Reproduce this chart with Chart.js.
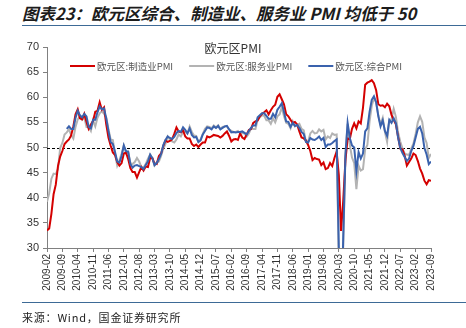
<!DOCTYPE html>
<html>
<head>
<meta charset="utf-8">
<script src="https://cdn.jsdelivr.net/npm/chart.js@4.4.0/dist/chart.umd.min.js"></script>
<style>
body{margin:0;width:466px;height:328px;background:#fff;overflow:hidden;position:relative;font-family:"Noto Sans CJK SC",sans-serif}
#head{position:absolute;left:22px;top:5px;line-height:16px;font-size:16.5px;font-weight:bold;font-style:italic;color:#1c1c1c;white-space:nowrap}
.rule{position:absolute;left:22px;right:0;height:0;border-top:1.5px solid #3d6a96}
#src{position:absolute;left:22px;top:312px;line-height:11px;font-size:11px;letter-spacing:0.8px;color:#222;white-space:nowrap}
#wrap{position:absolute;left:0;top:0}
</style>
</head>
<body>
<div id="head">图表23：欧元区综合、制造业、服务业 PMI 均低于 50</div>
<div class="rule" style="top:25px"></div>
<div id="wrap"><canvas id="pmi" width="466" height="328"></canvas></div>
<div class="rule" style="top:302px"></div>
<div id="src">来源：Wind，国金证券研究所</div>
<script>
// months 2009-02 .. 2023-09
var months = [];
for (var y = 2009; y <= 2023; y++) {
    for (var m = 1; m <= 12; m++) {
        if (y == 2009 && m < 2) continue;
        if (y == 2023 && m > 9) break;
        months.push(y + "-" + (m < 10 ? "0" + m : m));
    }
}

var manuf = [
    33.5, 33.9, 36.8, 40.7, 42.6, 46.3, 48.2, 49.3, 50.7, 51.2, 51.6,
    52.4, 54.2, 56.6, 57.6, 55.8, 55.6, 56.7, 55.1, 53.7, 54.6, 55.3, 57.1,
    57.3, 59.0, 57.5, 58.0, 54.6, 52.0, 50.4, 49.0, 48.5, 47.1, 46.4, 46.9,
    48.8, 49.0, 47.7, 45.9, 45.1, 45.1, 44.0, 45.1, 46.1, 45.4, 46.2, 46.1,
    47.9, 47.9, 46.8, 46.7, 48.3, 48.8, 50.3, 51.4, 51.1, 51.3, 51.6, 52.7,
    54.0, 53.2, 53.0, 53.4, 52.2, 51.8, 51.8, 50.7, 50.3, 50.6, 50.1, 50.6,
    51.0, 51.0, 52.2, 52.0, 52.2, 52.5, 52.4, 52.3, 52.0, 52.3, 52.8, 53.2,
    52.3, 51.2, 51.6, 51.7, 51.5, 52.8, 52.0, 51.7, 52.6, 53.5, 53.7, 54.9,
    55.2, 55.4, 56.2, 56.7, 57.0, 57.4, 56.6, 57.4, 58.1, 58.5, 60.1, 60.6,
    59.6, 58.6, 56.6, 56.2, 55.5, 54.9, 55.1, 54.6, 53.2, 52.0, 51.8, 51.4,
    50.5, 49.3, 47.5, 47.9, 47.7, 47.6, 46.5, 47.0, 45.7, 45.9, 46.9, 46.3,
    47.9, 49.2, 44.5, 33.4, 39.4, 47.4, 51.8, 51.7, 53.7, 54.8, 53.8, 55.2,
    54.8, 57.9, 62.5, 62.9, 63.1, 63.4, 62.8, 61.4, 58.6, 58.3, 58.4, 58.0,
    58.7, 58.2, 56.5, 55.5, 54.6, 52.1, 49.8, 49.6, 48.4, 46.4, 47.1, 47.8,
    48.8, 48.5, 47.3, 45.8, 44.8, 43.4, 42.7, 43.5, 43.4
];

var services = [
    39.2, 40.9, 43.8, 44.8, 44.7, 45.7, 49.9, 50.9, 52.6, 53.0, 53.6,
    52.5, 51.8, 54.1, 55.6, 56.2, 55.5, 56.0, 54.1, 54.1, 53.3, 55.4, 54.2,
    55.9, 56.8, 57.2, 56.7, 56.0, 53.7, 51.6, 51.5, 48.8, 46.4, 47.5, 48.8,
    50.4, 48.8, 49.2, 46.9, 46.7, 47.1, 47.9, 47.2, 46.1, 46.0, 46.7, 47.8,
    48.6, 47.9, 46.4, 47.0, 47.2, 48.3, 49.8, 50.7, 52.2, 51.6, 51.2, 51.0,
    51.6, 52.6, 52.2, 53.1, 53.2, 52.8, 54.2, 53.1, 52.4, 52.3, 51.1, 51.6,
    52.7, 53.7, 54.2, 54.1, 53.8, 54.4, 54.0, 54.4, 53.7, 54.1, 54.2, 54.2,
    53.6, 53.3, 53.1, 53.1, 53.3, 52.8, 52.9, 52.8, 52.2, 52.8, 53.8, 53.7,
    53.7, 55.5, 56.0, 56.4, 56.3, 55.4, 55.4, 54.7, 55.8, 55.0, 56.2, 56.6,
    58.0, 56.2, 54.9, 54.7, 53.8, 55.2, 54.2, 54.4, 54.7, 53.7, 53.4, 51.2,
    51.2, 52.8, 53.3, 52.8, 52.9, 53.6, 53.2, 53.5, 51.6, 52.2, 51.9, 52.8,
    52.5, 52.6, 26.4, 12.0, 30.5, 48.3, 54.7, 50.5, 48.0, 46.9, 41.7, 46.4,
    45.4, 45.7, 49.6, 50.5, 55.2, 58.3, 59.8, 59.0, 56.4, 54.6, 55.9, 53.1,
    51.1, 55.5, 55.6, 57.7, 56.1, 53.0, 51.2, 49.8, 48.8, 48.6, 48.5, 49.8,
    50.8, 52.7, 55.0, 56.2, 55.1, 52.0, 50.9, 47.9, 48.7
];

var composite = [
    null, null, null, null, null, null, null, null, null, 53.7, 54.2,
    53.7, 53.7, 55.9, 57.3, 56.4, 56.0, 56.7, 56.2, 54.1, 53.8, 55.5, 55.5,
    57.0, 58.2, 57.6, 57.8, 55.8, 53.3, 51.1, 50.7, 49.1, 47.2, 47.0, 48.3,
    50.4, 49.3, 49.1, 46.7, 46.0, 46.4, 46.5, 46.3, 46.1, 45.7, 46.5, 47.2,
    48.6, 47.9, 46.5, 46.9, 47.7, 48.7, 50.5, 51.5, 52.2, 51.9, 51.7, 52.1,
    52.9, 53.3, 53.1, 54.0, 53.5, 52.8, 53.8, 52.5, 52.0, 52.1, 51.1, 51.4,
    52.6, 53.3, 54.0, 53.9, 53.6, 54.2, 53.9, 54.3, 53.6, 53.9, 54.2, 54.3,
    53.6, 53.0, 53.1, 53.0, 53.1, 53.1, 53.2, 52.9, 52.6, 53.3, 53.9, 54.4,
    54.4, 56.0, 56.4, 56.8, 56.8, 56.3, 55.7, 55.7, 56.7, 56.0, 57.5, 58.1,
    58.8, 57.1, 55.2, 55.1, 54.1, 54.9, 54.3, 54.5, 53.9, 53.1, 52.7, 51.1,
    51.0, 51.9, 51.6, 51.5, 51.8, 52.2, 51.5, 51.9, 50.1, 50.6, 50.6, 50.9,
    51.3, 51.6, 29.7, 13.6, 31.9, 48.5, 54.9, 51.9, 50.4, 50.0, 45.3, 49.1,
    47.8, 48.8, 53.2, 53.8, 57.1, 59.5, 60.2, 59.0, 56.2, 54.2, 55.4, 53.3,
    52.3, 55.5, 54.9, 55.8, 54.8, 52.0, 49.9, 48.9, 48.1, 47.3, 47.8, 49.3,
    50.3, 52.0, 53.7, 54.1, 52.8, 49.9, 48.6, 46.7, 47.2
];

var yTicks = [30, 35, 40, 45, 50, 55, 60, 65, 70];

function toPoints(arr) {
    var out = [];
    for (var i = 0; i < arr.length; i++) {
        out.push({x: i, y: arr[i]});
    }
    return out;
}

// title, legend and the 50 line are drawn inside the plot area
var overlay = {
    id: 'overlay',
    beforeDatasetsDraw: function (chart) {
        var c = chart.ctx, a = chart.chartArea;
        var y50 = chart.scales.y.getPixelForValue(50);
        c.save();
        c.strokeStyle = '#000';
        c.lineWidth = 1;
        c.setLineDash([3, 2]);
        c.beginPath();
        c.moveTo(a.left, Math.round(y50) + 0.5);
        c.lineTo(a.right, Math.round(y50) + 0.5);
        c.stroke();
        c.restore();
    },
    afterDraw: function (chart) {
        var c = chart.ctx;
        c.save();
        c.fillStyle = '#333';
        c.font = '12px "Noto Sans CJK SC"';
        c.textAlign = 'center';
        c.textBaseline = 'middle';
        c.fillText('欧元区PMI', 233, 48);

        c.font = '9.5px "Noto Sans CJK SC"';
        c.textAlign = 'left';
        var x = 70;
        var ly = 66;
        var sets = chart.data.datasets;
        for (var i = 0; i < sets.length; i++) {
            c.strokeStyle = sets[i].borderColor;
            c.lineWidth = 2;
            c.beginPath();
            c.moveTo(x, ly);
            c.lineTo(x + 25, ly);
            c.stroke();
            c.fillStyle = '#555';
            c.fillText(sets[i].label, x + 27, ly);
            x += 27 + c.measureText(sets[i].label).width + 16;
        }
        c.restore();
    }
};

var chart = new Chart(document.getElementById('pmi'), {
    type: 'line',
    data: {
        datasets: [
            {label: '欧元区:制造业PMI', data: toPoints(manuf), borderColor: '#d40000', order: 2},
            {label: '欧元区:服务业PMI', data: toPoints(services), borderColor: '#b3b3b3', order: 3},
            {label: '欧元区:综合PMI', data: toPoints(composite), borderColor: '#3a62ad', order: 1}
        ]
    },
    options: {
        responsive: false,
        animation: false,
        layout: {padding: {left: 14, right: 35, top: 47, bottom: 32}},
        elements: {
            point: {radius: 0},
            line: {borderWidth: 2, tension: 0}
        },
        plugins: {
            legend: {display: false},
            title: {display: false},
            tooltip: {enabled: false}
        },
        scales: {
            x: {
                type: 'linear',
                min: 0,
                max: months.length - 1,
                ticks: {
                    stepSize: 7,
                    autoSkip: false,
                    minRotation: 90,
                    maxRotation: 90,
                    padding: 2,
                    color: '#333',
                    font: {family: 'Liberation Sans', size: 10},
                    callback: function (v) { return months[v]; }
                },
                grid: {drawOnChartArea: false, tickLength: 4, color: '#808080'},
                border: {color: '#808080'},
                afterFit: function (s) { s.height = 48; }
            },
            y: {
                min: 30,
                max: 70,
                afterBuildTicks: function (s) {
                    s.ticks = yTicks.map(function (v) { return {value: v}; });
                },
                ticks: {
                    color: '#333',
                    padding: 4,
                    font: {family: 'Liberation Sans', size: 11}
                },
                grid: {drawOnChartArea: false, tickLength: 4, color: '#808080'},
                border: {color: '#808080'},
                afterFit: function (s) { s.width = 33; }
            }
        }
    },
    plugins: [overlay]
});
</script>
</body>
</html>
